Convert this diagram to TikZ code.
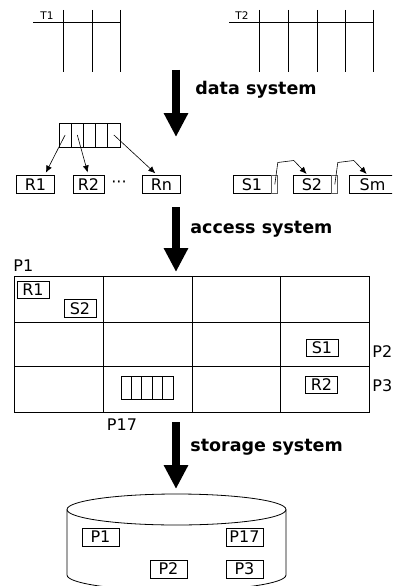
\documentclass[tikz,border=0pt]{standalone}
\usepackage{fontspec}
\setmainfont{DejaVu Sans}
\usetikzlibrary{arrows.meta}

\begin{document}
\begin{tikzpicture}[x=1pt,y=-1pt,line width=0.8pt,
    lbl/.style={font=\fontsize{16}{19}\selectfont,inner sep=0pt},
    rbox/.style={draw,lbl,minimum height=17.5pt,minimum width=38pt},
    gbox/.style={rbox,minimum width=32pt},
    pbox/.style={rbox,minimum width=37pt,minimum height=18pt},
    ptr/.style={draw,gray!70!black,inner sep=0pt,minimum width=6pt,minimum height=17.5pt},
    cell/.style={draw,inner sep=0pt,minimum width=12.2pt,minimum height=24pt},
    tcell/.style={draw,inner sep=0pt,minimum width=10.4pt,minimum height=23pt},
    layer/.style={line width=8pt,-{Triangle[length=24pt,width=23pt]}},
    layerlbl/.style={font=\fontsize{17.5}{21}\selectfont\bfseries,anchor=west,inner sep=0pt},
    tlbl/.style={font=\fontsize{10.5}{12}\selectfont,inner sep=0pt},
    ref/.style={-{Latex[length=7pt,width=6pt]},line width=0.6pt,shorten >=3pt}]
    \useasboundingbox (0,0) rectangle (392,586);
    \clip (0,0) rectangle (392,586);

    \draw (33,22) -- (120,22);
    \foreach \x in {63,92,120} \draw (\x,10) -- (\x,72);
    \node[tlbl] (t1) at (47,16) {T1};
    \draw (229,22) -- (373,22);
    \foreach \x in {259,288,317,345,373} \draw (\x,10) -- (\x,72);
    \node[tlbl] (t2) at (242,16) {T2};

    \coordinate (ds1) at (176,70);
    \coordinate (ds2) at (176,137);
    \draw[layer] (ds1) -- (ds2);
    \node[layerlbl] (ds) at (195,90) {data system};

    \foreach \i in {1,...,5} \node[cell] (c\i) at ({59+12.2*\i-6.1},135) {};
    \node[rbox] (r1) at (35.5,184.5) {R1};
    \node[rbox,minimum width=31pt] (r2) at (88.5,184.5) {R2};
    \node[lbl] (dots) at (119,184.5) {···};
    \node[rbox] (rn) at (161.5,184.5) {Rn};
    \draw[ref] (c1.center) -- ([xshift=9pt]r1.north);
    \draw[ref] (c2.center) -- (r2.north);
    \draw[ref] (c5.center) -- ([xshift=-4pt]rn.north);

    \node[rbox] (s1) at (252,184.5) {S1};
    \node[ptr,anchor=west] (p1) at (s1.east) {};
    \node[rbox] (s2) at (312,184.5) {S2};
    \node[ptr,anchor=west] (p2) at (s2.east) {};
    \node[rbox,minimum width=47pt] (sm) at (372.5,184.5) {Sm};
    \draw[ref,shorten >=2pt] (p1.center) -- ++(3,-22) -- ++(16,-2) -- ([xshift=-4pt]s2.north);
    \draw[ref,shorten >=2pt] (p2.center) -- ++(3,-22) -- ++(16,-2) -- ([xshift=-4.5pt]sm.north);

    \coordinate (as1) at (176,207);
    \coordinate (as2) at (176,272);
    \draw[layer] (as1) -- (as2);
    \node[layerlbl] (as) at (190,229) {access system};

    \draw (14,276) rectangle (369,412);
    \foreach \x in {103,192,280} \draw (\x,276) -- (\x,412);
    \foreach \y in {322,366} \draw (14,\y) -- (369,\y);
    \node[lbl,anchor=west] (pg1) at (13,266) {P1};
    \node[lbl,anchor=west] (pg2) at (372,352) {P2};
    \node[lbl,anchor=west] (pg3) at (372,386) {P3};
    \node[lbl] (pg17) at (122,425) {P17};
    \node[gbox] (gr1) at (33,290) {R1};
    \node[gbox] (gs2) at (80,308.5) {S2};
    \node[gbox] (gs1) at (322,348) {S1};
    \node[gbox] (gr2) at (321.5,385) {R2};
    \foreach \i in {1,...,5} \node[tcell] (g\i) at ({121+10.4*\i-5.2},387.5) {};

    \coordinate (ss1) at (176,422);
    \coordinate (ss2) at (176,489);
    \draw[layer] (ss1) -- (ss2);
    \node[layerlbl] (ss) at (190,447) {storage system};

    \draw (176.5,509.5) ellipse [x radius=109.5,y radius=15.5];
    \draw (67,509.5) -- (67,575) arc [start angle=180,end angle=0,x radius=109.5,y radius=15.5] -- (286,509.5);
    \node[pbox] (d1) at (100.5,537) {P1};
    \node[pbox] (d17) at (244.5,537) {P17};
    \node[pbox] (d2) at (168.5,569) {P2};
    \node[pbox] (d3) at (244.5,569) {P3};
\end{tikzpicture}
\end{document}
